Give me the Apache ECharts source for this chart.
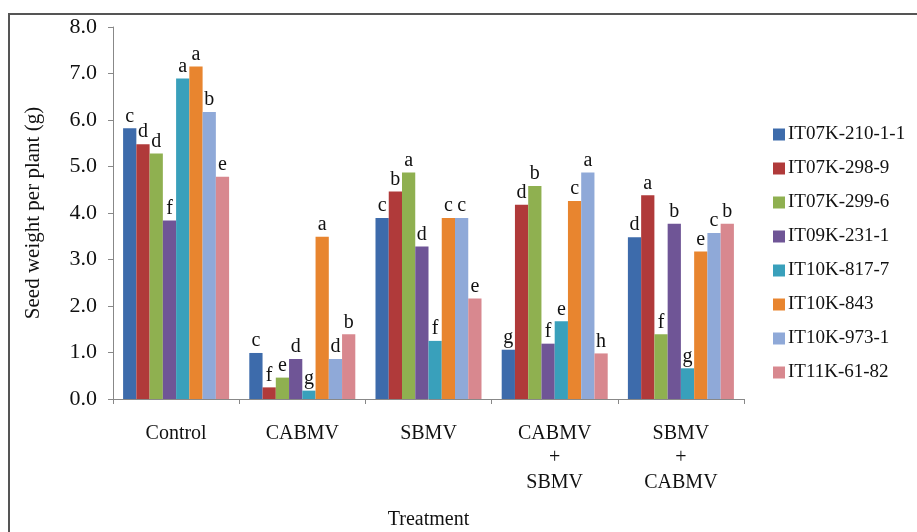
<!DOCTYPE html>
<html>
<head>
<meta charset="utf-8">
<script src="https://cdn.jsdelivr.net/npm/echarts@6/dist/echarts.min.js"></script>
<style>html,body{margin:0;padding:0;background:#fff;}#c{width:917px;height:532px;}</style>
</head>
<body>
<div id="c"></div>
<script>
const categories = ['Control', 'CABMV', 'SBMV', 'CABMV\n+\nSBMV', 'SBMV\n+\nCABMV'];
const seriesNames = ['IT07K-210-1-1', 'IT07K-298-9', 'IT07K-299-6', 'IT09K-231-1', 'IT10K-817-7', 'IT10K-843', 'IT10K-973-1', 'IT11K-61-82'];
const v1 = [5.82, 0.99, 3.89, 1.06, 3.48];
const v2 = [5.48, 0.25, 4.46, 4.18, 4.38];
const v3 = [5.28, 0.46, 4.87, 4.58, 1.39];
const v4 = [3.84, 0.86, 3.28, 1.19, 3.77];
const v5 = [6.89, 0.18, 1.25, 1.67, 0.66];
const v6 = [7.15, 3.49, 3.89, 4.26, 3.17];
const v7 = [6.17, 0.86, 3.89, 4.87, 3.57];
const v8 = [4.78, 1.39, 2.16, 0.98, 3.77];
const l1 = ['c', 'c', 'c', 'g', 'd'];
const l2 = ['d', 'f', 'b', 'd', 'a'];
const l3 = ['d', 'e', 'a', 'b', 'f'];
const l4 = ['f', 'd', 'd', 'f', 'b'];
const l5 = ['a', 'g', 'f', 'e', 'g'];
const l6 = ['a', 'a', 'c', 'c', 'e'];
const l7 = ['b', 'd', 'c', 'a', 'c'];
const l8 = ['e', 'b', 'e', 'h', 'b'];
const yTicks = [0, 1, 2, 3, 4, 5, 6, 7, 8];

const values = [v1, v2, v3, v4, v5, v6, v7, v8];
const letters = [l1, l2, l3, l4, l5, l6, l7, l8];
const colors = ['#3d6bab', '#b03a3a', '#8fb050', '#6f5596', '#39a0bb', '#e8852f', '#8fa9d8', '#d8888f'];
const font = 'Liberation Serif, Times New Roman, serif';

const chart = echarts.init(document.getElementById('c'), null, {renderer: 'canvas'});
chart.setOption({
  animation: false,
  backgroundColor: '#fff',
  color: colors,
  textStyle: {fontFamily: font},
  graphic: [{
    type: 'rect', shape: {x: 9, y: 14, width: 1000, height: 1000},
    style: {fill: 'none', stroke: '#555', lineWidth: 2}, silent: true
  }],
  grid: {left: 113, right: 173, top: 27, bottom: 133, containLabel: false, outerBoundsMode: 'none'},
  legend: {
    orient: 'vertical', left: 773, top: 124, padding: 0,
    itemWidth: 12, itemHeight: 12, itemGap: 13,
    icon: 'rect',
    textStyle: {fontFamily: font, fontSize: 19, color: '#111', lineHeight: 21, padding: [0, 0, 0, -2]},
    data: seriesNames
  },
  xAxis: {
    type: 'category', data: categories,
    name: 'Treatment', nameLocation: 'middle', nameGap: 111,
    nameTextStyle: {fontFamily: font, fontSize: 20, color: '#111'},
    axisLine: {lineStyle: {color: '#888'}},
    axisTick: {show: true, inside: false, length: 5, lineStyle: {color: '#888'}},
    axisLabel: {fontFamily: font, fontSize: 20, color: '#111', lineHeight: 24.5, margin: 22, interval: 0}
  },
  yAxis: {
    type: 'value', min: 0, max: 8, interval: 1,
    name: 'Seed weight per plant (g)', nameLocation: 'middle', nameGap: 69,
    nameTextStyle: {fontFamily: font, fontSize: 21, color: '#111'},
    axisLine: {show: true, lineStyle: {color: '#888'}},
    axisTick: {show: true, length: 5, lineStyle: {color: '#888'}},
    splitLine: {show: false},
    axisLabel: {fontFamily: font, fontSize: 22, color: '#111', margin: 16,
      formatter: v => yTicks.includes(v) ? v.toFixed(1) : ''}
  },
  series: seriesNames.map((n, i) => ({
    name: n, type: 'bar', data: values[i],
    barGap: '0%', barCategoryGap: '16%',
    itemStyle: {color: colors[i]},
    label: {
      show: true, position: 'top', distance: 2,
      fontFamily: font, fontSize: 20, color: '#111',
      formatter: p => letters[i][p.dataIndex]
    }
  }))
});
</script>
</body>
</html>
